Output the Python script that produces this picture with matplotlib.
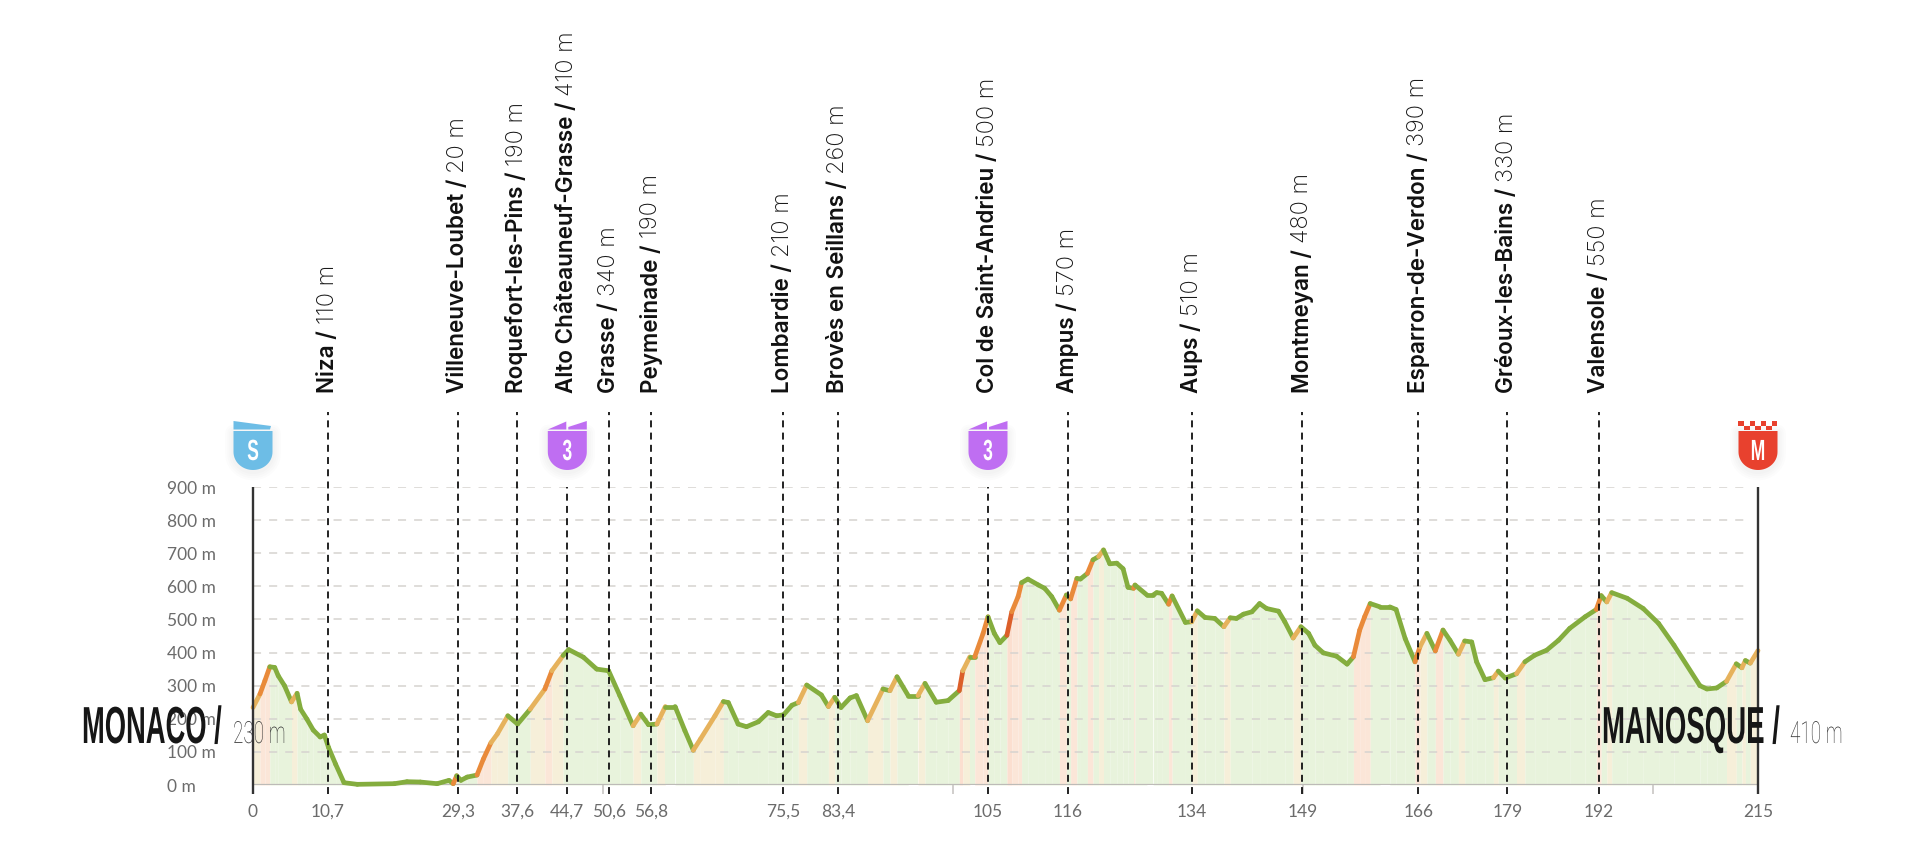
import matplotlib
matplotlib.use('Agg')
import matplotlib.pyplot as plt
import numpy as np
from matplotlib.patches import Polygon, Rectangle
from matplotlib.patheffects import AbstractPathEffect
from matplotlib.text import Text
from matplotlib.transforms import Affine2D, Bbox

km = [0, 1, 1.7, 2.4, 3.1, 3.6, 4.5, 5.5, 6.3, 6.8, 7.7, 8.6, 9.6, 10.2, 10.8, 11.8, 13, 14.9, 20.2, 22, 23.9,
      26.3, 28, 28.6, 29.1, 29.7, 30.6, 32, 32.9, 34, 34.9, 36.4, 37.8, 39.6, 41.7, 42.7, 44.3, 45.1, 47.2, 49.1,
      50.8, 52.4, 54.3, 55.4, 56.5, 57.7, 58.9, 60.3, 61.7, 62.9, 63.9, 66, 67.2, 67.9, 69.3, 70.5, 72.2, 73.6,
      74.8, 75.8, 77, 77.9, 79.1, 81.2, 82.2, 83.1, 84, 85.3, 86.2, 87.8, 90, 91, 92, 93.6, 95, 96, 97.6, 99.3,
      100.9, 101.4, 102.4, 103.1, 104.3, 105, 105.9, 106.7, 107.7, 108.4, 109.3, 109.8, 110.7, 112.2, 113.1,
      114.1, 115.2, 116.2, 116.8, 117.7, 118.2, 119.2, 120, 120.8, 121.5, 122.4, 123.4, 124.3, 125, 125.8, 126,
      127.7, 128.6, 129.1, 129.8, 130.8, 131.3, 133.2, 134.1, 134.9, 136, 137.4, 138.7, 139.6, 140.5, 141.5,
      142.7, 143.8, 144.8, 146.5, 147.4, 148.6, 149.7, 150.8, 151.7, 152.9, 154.8, 156.3, 157.2, 158.1, 158.8,
      159.6, 161, 162.4, 163.3, 164.6, 166, 166.7, 167.7, 168.9, 170, 171, 172.2, 173.1, 174.1, 174.8, 176,
      177.2, 177.9, 178.9, 180.5, 181.7, 183.1, 184.8, 186.5, 188.1, 190.3, 191.9, 192.6, 193.4, 194.1, 196.3,
      198.6, 200.8, 203, 206.7, 207.7, 209.1, 210.5, 211.9, 212.7, 213.2, 213.9, 215]
elevation = [234, 275, 315, 357, 355, 330, 300, 251, 277, 229, 199, 166, 145, 151, 113, 63, 7, 2, 4, 10, 9,
             4, 14, 4, 28, 14, 24, 30, 78, 128, 154, 209, 184, 229, 290, 345, 391, 409, 386, 350,
             345, 270, 179, 214, 182, 184, 237, 237, 164, 105, 138, 209, 252, 249, 184, 176, 191, 219,
             209, 212, 241, 249, 302, 272, 237, 265, 234, 263, 270, 194, 290, 285, 327, 270, 270, 307, 250, 255,
             285, 345, 387, 387, 458, 508, 458, 430, 452, 523, 569, 611, 622, 604, 594,
             569, 528, 574, 562, 624, 622, 639, 680, 690, 710, 668, 670, 653, 597, 594, 604,
             574, 574, 581, 579, 546, 571, 491, 493, 526, 506, 503, 478, 505, 503, 516,
             523, 548, 533, 525, 493, 444, 478, 458, 422, 399, 389, 365, 387, 468, 508,
             548, 538, 538, 530, 442, 372, 417, 458, 405, 468, 437, 395, 435, 432, 372, 318,
             324, 344, 323, 336, 372, 392, 407, 437, 473, 508, 530, 572, 553, 581, 564,
             533, 488, 422, 300, 290, 293, 313, 366, 354, 376, 368, 406]

place_names = ['Niza', 'Villeneuve-Loubet', 'Roquefort-les-Pins', 'Alto Châteauneuf-Grasse', 'Grasse', 'Peymeinade',
               'Lombardie', 'Brovès en Seillans', 'Col de Saint-Andrieu', 'Ampus', 'Aups', 'Montmeyan',
               'Esparron-de-Verdon', 'Gréoux-les-Bains', 'Valensole']
place_heights = [110, 20, 190, 410, 340, 190, 210, 260, 500, 570, 510, 480, 390, 330, 550]
place_km = [10.7, 29.3, 37.7, 44.9, 50.9, 56.9, 75.7, 83.6, 105, 116.4, 134.1, 149.9, 166.5, 179.2, 192.3]
place_labels = ['10,7', '29,3', '37,6', '44,7', '50,6', '56,8', '75,5', '83,4', '105', '116', '134', '149',
                '166', '179', '192']
height_ticks = [0, 100, 200, 300, 400, 500, 600, 700, 800, 900]
minor_km = [50, 100, 150, 200]
climb_km = [44.9, 105]

W, H = 1920, 856
plt.rcParams['lines.scale_dashes'] = False
fig = plt.figure(figsize=(W / 100, H / 100), dpi=100)
ax = fig.add_axes([253 / W, (H - 785) / H, 1505 / W, 298 / H])
ax.set_xlim(0, 215)
ax.set_ylim(0, 900)
px = Affine2D().scale(1, -1).translate(0, H)  # picture pixels, y going down


class Squeeze(AbstractPathEffect):
    def __init__(self, sx):
        super().__init__()
        self.sx = sx

    def draw_path(self, renderer, gc, tpath, affine, rgbFace=None):
        renderer.draw_path(gc, tpath, Affine2D().scale(self.sx, 1) + affine, rgbFace)


class PosterText(Text):
    # the condensed poster type isn't installed, so narrow a normal font
    def __init__(self, x, y, s, sx, **kwargs):
        super().__init__(x, y, s, **kwargs)
        self.sx = sx
        self.set_path_effects([Squeeze(sx)])

    def get_window_extent(self, renderer=None, dpi=None):
        bb = super().get_window_extent(renderer, dpi)
        return Bbox.from_extents(bb.x0, bb.y0, bb.x0 + bb.width * self.sx, bb.y1)


def slope_colors(slope):
    if slope >= 9:
        return '#dc5f2a', '#fbdfd0'
    if slope >= 4.5:
        return '#e98a3a', '#fbe6d8'
    if slope >= 2.6:
        return '#e6b25c', '#f6efd9'
    return '#84ad3e', '#e8f3dc'


def x_px(value):
    return ax.transData.transform((value, 0))[0]


# area and line, coloured by gradient
for i in range(len(km) - 1):
    slope = (elevation[i + 1] - elevation[i]) / ((km[i + 1] - km[i]) * 10)
    line_c, fill_c = slope_colors(slope)
    ax.fill_between(km[i:i + 2], elevation[i:i + 2], 0, color=fill_c, lw=0, zorder=1, antialiased=False)
    ax.plot(km[i:i + 2], elevation[i:i + 2], color=line_c, lw=3.4, solid_capstyle='round', zorder=4, clip_on=False)

for h in height_ticks[1:]:
    ax.plot([0, 213.6], [h, h], color='#d6d3cf', lw=1.1, ls=(0, (5.8, 5.8)), zorder=2)

ax.vlines(place_km, -27, [900 if k in climb_km else 1127 for k in place_km], color='#111111', lw=1.3,
          linestyles=[(0, (5, 3.8))], zorder=5, clip_on=False)
ax.vlines([0, 215], -27, 900, color='#333333', lw=1.7, zorder=6, clip_on=False)

for spine in ax.spines.values():
    spine.set_visible(False)
ax.axhline(0, color='#bdbbb8', lw=1.6, zorder=3)
ax.patch.set_alpha(0)

ax.set_yticks(height_ticks)
ax.set_yticklabels([f'{h} m' for h in height_ticks], family='Lato', fontsize=12.5, color='#6b6b6b', ha='left')
ax.tick_params(axis='y', length=0, pad=62)
ax.set_xticks([0] + place_km + [215])
ax.set_xticklabels(['0'] + place_labels + ['215'], family='Lato', fontsize=12.5, color='#6b6b6b')
ax.tick_params(axis='x', length=0, pad=13.5)
ax.set_xticks(minor_km, minor=True)
ax.tick_params(axis='x', which='minor', length=6.5, width=1.2, color='#c8c6c3', labelbottom=False)

# rotated place labels above the profile
renderer = fig.canvas.get_renderer()
for name, height, k in zip(place_names, place_heights, place_km):
    first = fig.text(x_px(k) / W, (H - 393) / H, f'{name} /', rotation=90, ha='center', va='bottom',
                     family='Inter', weight='semibold', fontsize=16.2, color='#111111')
    top = first.get_window_extent(renderer).y1
    fig.text(x_px(k) / W, (top + 6) / H, f'{height} m', rotation=90, ha='center', va='bottom',
             family='Inter', weight='light', fontsize=17, color='#1a1a1a')


def poster_text(x, y, s, size, sx, family='Liberation Sans', weight='bold', color='#161616', center=False):
    t = PosterText(x / W, (H - y) / H, s, sx, family=family, weight=weight, fontsize=size, color=color,
                   ha='left', va='baseline', zorder=8, transform=fig.transFigure)
    fig.add_artist(t)
    if center:
        t.set_x((x - t.get_window_extent(renderer).width / 2) / W)
    return t


poster_text(82, 743, 'MONACO /', 37.5, 0.525)
poster_text(233, 743, '230 m', 22, 0.62, family='Roboto', weight='light', color='#333333')
poster_text(1602, 743, 'MANOSQUE /', 37.5, 0.53)
poster_text(1790, 743, '410 m', 22, 0.62, family='Roboto', weight='light', color='#333333')


def shield(cx, color, letter):
    t = np.linspace(0, np.pi, 30)
    outline = [(cx - 19.5, 431)] + [(cx - 19.5 * np.cos(a), 452 + 18 * np.sin(a)) for a in t] + [(cx + 19.5, 431)]
    for grow in [12, 9, 6, 3]:
        fig.add_artist(Polygon([(a, b + 2) for a, b in outline], closed=True, transform=px, facecolor='none',
                               edgecolor='#000000', lw=grow, alpha=0.012, joinstyle='round'))
    fig.add_artist(Polygon(outline, closed=True, transform=px, facecolor=color, lw=0))
    poster_text(cx, 460, letter, 21, 0.6, color='white', center=True)


start_x, climb_x, finish_x = x_px(0), [x_px(k) for k in climb_km], x_px(215)

shield(start_x, '#6dbde6', 'S')
fig.add_artist(Polygon([(start_x - 19.5, 421), (start_x + 18, 426), (start_x + 17, 429.5), (start_x - 19.5, 429.5)],
                       closed=True, transform=px, facecolor='#6dbde6', lw=0))

for cx in climb_x:
    shield(cx, '#bf6ef2', '3')
    fig.add_artist(Polygon([(cx - 19.5, 429.5), (cx - 1, 421.5), (cx - 1, 429.5)], closed=True, transform=px,
                           facecolor='#bf6ef2', lw=0))
    fig.add_artist(Polygon([(cx + 1, 427), (cx + 19.5, 421), (cx + 19.5, 429.5), (cx + 1, 429.5)], closed=True,
                           transform=px, facecolor='#bf6ef2', lw=0))

shield(finish_x, '#e8412e', 'M')
cell = 39 / 7
for col in range(7):
    row_y = 421 if col % 2 == 0 else 425.5
    fig.add_artist(Rectangle((finish_x - 19.5 + col * cell, row_y), cell, 4.5, transform=px, facecolor='#e8412e', lw=0))

fig.savefig('out.png', dpi=100, facecolor='white')
